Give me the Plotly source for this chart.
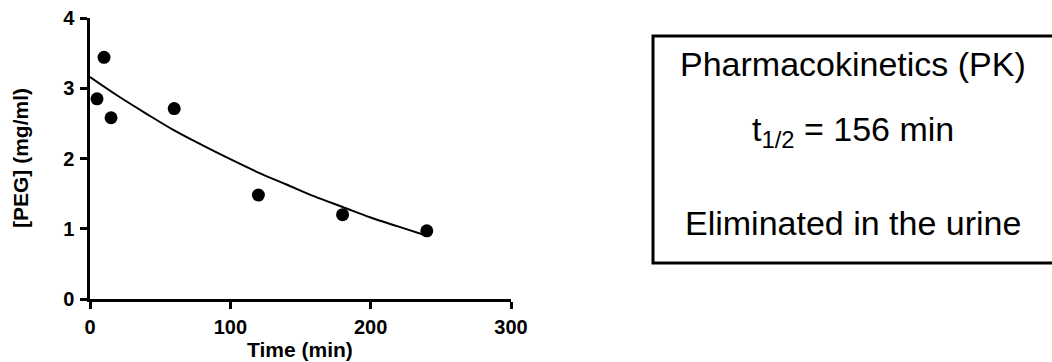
import plotly.graph_objects as go

# Observed data
time_min = [5, 10, 15, 60, 120, 180, 240]
peg_mg_ml = [2.85, 3.44, 2.58, 2.71, 1.48, 1.20, 0.97]

# Fitted decay curve
fit_time = [0, 20, 40, 60, 80, 100, 120, 140, 160, 180, 200, 220, 240]
fit_peg = [3.16, 2.89, 2.64, 2.40, 2.19, 1.99, 1.80, 1.63, 1.46, 1.31, 1.16, 1.03, 0.90]

x_ticks = [0, 100, 200, 300]
y_ticks = [0, 1, 2, 3, 4]

x_title = "Time (min)"
y_title = "[PEG] (mg/ml)"
box_lines = ["Pharmacokinetics (PK)", "t<sub>1/2</sub> = 156 min", "Eliminated in the urine"]

FONT = "Arial, Liberation Sans, sans-serif"

W, H = 1052, 362
ml, mr, mt, mb = 90, 541, 18, 63
pw, ph = W - ml - mr, H - mt - mb


def px_x(p):  # page pixel -> paper x
    return (p - ml) / pw


def px_y(p):  # page pixel -> paper y
    return (H - mb - p) / ph


fig = go.Figure()
fig.add_trace(go.Scatter(x=fit_time, y=fit_peg, mode="lines",
                         line=dict(color="black", width=2, shape="spline", smoothing=1),
                         showlegend=False))
fig.add_trace(go.Scatter(x=time_min, y=peg_mg_ml, mode="markers",
                         marker=dict(color="black", size=13), showlegend=False,
                         cliponaxis=False))

axis_common = dict(showline=True, linecolor="black", linewidth=2.5, ticks="outside",
                   tickcolor="black", tickwidth=2.5, ticklen=7, showgrid=False,
                   zeroline=False, automargin=False, ticklabeloverflow="allow",
                   tickfont=dict(family=FONT, size=20, color="black", weight="bold"))

fig.update_xaxes(range=[0, 300], tickvals=x_ticks, ticklabelstandoff=1, **axis_common)
fig.update_yaxes(range=[0, 4], tickvals=y_ticks, ticklabelstandoff=2, **axis_common)

fig.add_annotation(text="<b>" + x_title + "</b>", xref="paper", yref="paper",
                   x=px_x(300), y=px_y(349), xanchor="center", yanchor="middle",
                   showarrow=False, font=dict(family=FONT, size=21, color="black"))
fig.add_annotation(text="<b>" + y_title + "</b>", xref="paper", yref="paper",
                   x=px_x(20), y=px_y(158), xanchor="center", yanchor="middle",
                   textangle=-90, showarrow=False,
                   font=dict(family=FONT, size=21, color="black"))

fig.add_shape(type="rect", xref="paper", yref="paper",
              x0=px_x(653), x1=px_x(1060), y0=px_y(263), y1=px_y(36),
              line=dict(color="black", width=3), fillcolor="rgba(0,0,0,0)")

for text, ypix in zip(box_lines, [64, 131, 223]):
    fig.add_annotation(text=text, xref="paper", yref="paper",
                       x=px_x(853), y=px_y(ypix), xanchor="center", yanchor="middle",
                       showarrow=False, font=dict(family=FONT, size=34, color="black"))

fig.update_layout(width=W, height=H, margin=dict(l=ml, r=mr, t=mt, b=mb, autoexpand=False),
                  plot_bgcolor="white", paper_bgcolor="white", showlegend=False)

fig.write_html("out.html", config={"displayModeBar": False},
               post_script="document.body.style.margin='0';document.body.style.overflow='hidden';")
